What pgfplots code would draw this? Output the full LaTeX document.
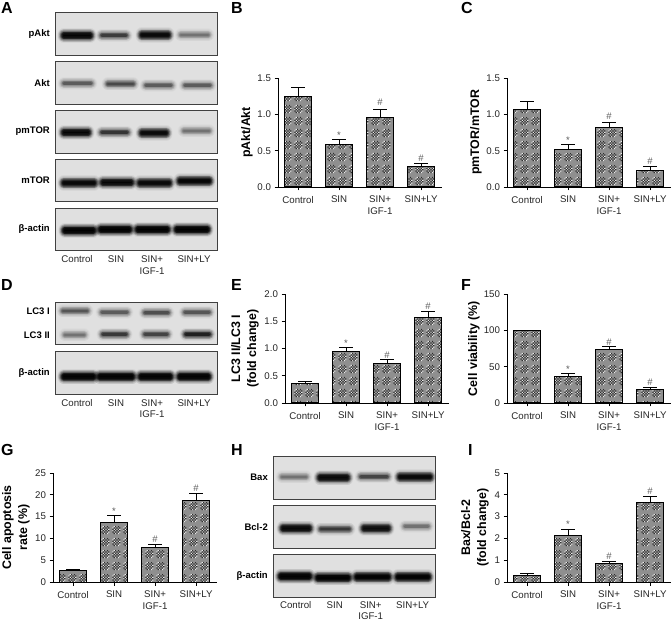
\documentclass[border=0pt]{standalone}
\usepackage{fontspec}
\setmainfont{Liberation Sans}
\usepackage{pgfplots}
\usepackage{pgfplotstable}
\pgfplotsset{compat=1.18}
\usetikzlibrary{patterns}

% moire look of the bar fill
\pgfdeclarepatterninherentlycolored{moire}{\pgfpointorigin}{\pgfpoint{11.3pt}{12.4pt}}{\pgfpoint{11.3pt}{12.4pt}}{
  \definecolor{base}{gray}{0.56}
  \definecolor{lite}{gray}{0.92}
  \definecolor{dark}{gray}{0.18}
  \pgfsetfillcolor{base}
  \pgfpathrectangle{\pgfpointorigin}{\pgfpoint{11.3pt}{12.4pt}}
  \pgfusepath{fill}
  \pgfsetfillcolor{lite}
  \foreach \i in {0,...,5}{\foreach \j in {0,...,5}{
    \pgfmathsetmacro\r{(\i-2.5)^2+(\j-2.5)^2}
    \pgfmathtruncatemacro\p{mod(\i+\j,2)}
    \ifdim\r pt<9pt \ifnum\p=0
      \pgfpathrectangle{\pgfpoint{1.45pt+1.4pt*\i}{2pt+1.4pt*\j}}{\pgfqpoint{1.4pt}{1.4pt}}
    \fi\fi
  }}
  \pgfusepath{fill}
  \pgfsetfillcolor{dark}
  \foreach \i in {0,...,5}{\foreach \j in {0,...,5}{
    \pgfmathsetmacro\r{(\i-2.5)^2+(\j-2.5)^2}
    \pgfmathtruncatemacro\p{mod(\i+\j,2)}
    \ifdim\r pt<9pt \ifnum\p=1
      \pgfpathrectangle{\pgfpoint{1.45pt+1.4pt*\i}{2pt+1.4pt*\j}}{\pgfqpoint{1.4pt}{1.4pt}}
    \fi\fi
  }}
  \pgfusepath{fill}
}

\newcommand{\tickfont}{\fontsize{9.7}{12}\selectfont}
\newcommand{\labfont}{\fontsize{12.4}{16}\selectfont\bfseries}

\pgfplotstableread{
x y e
0 1.25 0.12
1 0.59 0.07
2 0.95 0.11
3 0.28 0.04
}\tabB
\pgfplotstableread{
x y e
0 1.06 0.12
1 0.51 0.07
2 0.82 0.07
3 0.23 0.05
}\tabC
\pgfplotstableread{
x y e
0 0.35 0.04
1 0.95 0.07
2 0.72 0.08
3 1.56 0.11
}\tabE
\pgfplotstableread{
x y e
0 100 0
1 36 4
2 73 4.5
3 18 4
}\tabF
\pgfplotstableread{
x y e
0 2.6 0.3
1 13.7 1.5
2 7.8 0.9
3 18.6 1.7
}\tabG
\pgfplotstableread{
x y e
0 0.28 0.1
1 2.15 0.25
2 0.85 0.1
3 3.65 0.28
}\tabI

\pgfplotsset{
  panel/.style={
    scale only axis,width=164pt,height=109pt,
    xmin=-0.49,xmax=3.51,ymin=0,
    axis lines=left,axis line style={-,line width=0.9pt},
    tick style={black,line width=0.8pt},tick align=outside,
    major tick length=3.5pt,
    xtick={0,1,2,3},
    xticklabels={Control,SIN,{SIN+\\IGF-1},SIN+LY},
    xticklabel style={align=center,yshift=-2pt},
    tick label style={font=\tickfont,text=black!85},
    /pgf/number format/assume math mode=true,
    ylabel style={at={(axis description cs:0,0.5)},anchor=center,align=center,font=\labfont},
    clip=false,
  },
  bars/.style={
    ybar,bar width=27.5pt,bar shift=0pt,draw=black,line width=1pt,pattern=moire,
    error bars/.cd,y dir=plus,y explicit,
    error bar style={black,line width=1pt,solid},
    error mark options={rotate=90,mark size=7pt,line width=1pt,black},
  },
  sig/.style={
    draw=none,mark=none,
    nodes near coords style={font=\fontsize{9.5}{10}\selectfont,text=black!65,anchor=center,inner sep=0pt},
  },
}

% blurred band of a blot: from x1 to x2 at height y, darkness d
\newcommand{\band}[4]{%
  \addplot[line cap=round,line width=13pt,black,opacity={0.05*#4}] coordinates {(#1,#3)(#2,#3)};
  \addplot[line cap=round,line width=11.5pt,black,opacity={0.08*#4}] coordinates {(#1,#3)(#2,#3)};
  \addplot[line cap=round,line width=10pt,black,opacity={0.12*#4}] coordinates {(#1,#3)(#2,#3)};
  \addplot[line cap=round,line width=8.5pt,black,opacity={0.17*#4}] coordinates {(#1,#3)(#2,#3)};
  \addplot[line cap=round,line width=7pt,black,opacity={0.24*#4}] coordinates {(#1,#3)(#2,#3)};
  \addplot[line cap=round,line width=5.5pt,black,opacity={0.32*#4}] coordinates {(#1,#3)(#2,#3)};
  \addplot[line cap=round,line width=4pt,black,opacity={0.42*#4}] coordinates {(#1,#3)(#2,#3)};
  \addplot[line cap=round,line width=2.5pt,black,opacity={0.5*#4}] coordinates {(#1,#3)(#2,#3)};
}
% strong band, a little taller
\newcommand{\bandh}[4]{\band{#1}{#2}{#3-1.2}{#4}\band{#1}{#2}{#3+1.2}{#4}}
\pgfplotsset{
  blot/.style n args={2}{
    scale only axis,width=162pt,height=42.6pt,
    xmin=#1,xmax=#1+162,ymin=#2,ymax=#2+42.6,y dir=reverse,
    ticks=none,axis line style={line width=0.9pt,black!75},
    axis background/.style={fill=black!12},
  },
}
% blot frame: left edge, top edge counted from the top of the figure
\newcommand{\blotat}[2]{\pgfmathsetlengthmacro{\blotY}{(621-#2-42.6)*1pt}}

\newcommand{\lab}[3]{\node[font=\tickfont,text=black!85,anchor=center] at ({#1},{621-(#2)}) {#3};}
\newcommand{\lanes}[2]{%
  \lab{77+#1}{#2}{Control}\lab{116+#1}{#2}{SIN}\lab{152+#1}{#2}{SIN+}
  \lab{152+#1}{#2+11.5}{IGF-1}\lab{194+#1}{#2}{SIN+LY}}
\newcommand{\blab}[3]{\node[font=\fontsize{9.5}{11}\selectfont\bfseries,anchor=east,inner sep=0pt] at (#1,{621-#2}) {#3};}
\newcommand{\letter}[3]{\node[font=\fontsize{16}{16}\selectfont\bfseries,anchor=west,inner sep=0pt] at (#1,{621-#2}) {#3};}

\begin{document}
\begin{tikzpicture}[x=1pt,y=1pt]
\useasboundingbox (0,0) rectangle (671,621);

\letter{1}{8}{A}\letter{231}{8}{B}\letter{461}{8}{C}
\letter{1}{285}{D}\letter{231}{285}{E}\letter{461}{285}{F}
\letter{1}{450}{G}\letter{231}{450}{H}\letter{468}{450}{I}

% A, blots
\blotat{55}{12.7}
\begin{axis}[blot={55}{12.7},at={(55pt,\blotY)}]
\bandh{64}{90}{35.5}{0.85}\band{102}{126}{35.5}{0.6}\bandh{142}{168}{35}{0.8}\band{181}{208}{35}{0.32}
\end{axis}
\blotat{55}{61.5}
\begin{axis}[blot={55}{61.5},at={(55pt,\blotY)}]
\band{64}{91}{83.5}{0.42}\band{108}{133}{84}{0.52}\band{146}{171}{85.5}{0.42}\band{185}{210}{85.5}{0.42}
\end{axis}
\blotat{55}{110.5}
\begin{axis}[blot={55}{110.5},at={(55pt,\blotY)}]
\bandh{64}{88}{132.5}{0.8}\band{102}{127}{132.5}{0.65}\bandh{142}{166}{133}{0.75}\band{184}{209}{131}{0.32}
\end{axis}
\blotat{55}{159.3}
\begin{axis}[blot={55}{159.3},at={(55pt,\blotY)}]
\bandh{64}{94}{183}{0.8}\bandh{103}{131}{182.5}{0.8}\bandh{140}{169}{183}{0.8}\bandh{180}{209}{181}{0.85}
\end{axis}
\blotat{55}{208}
\begin{axis}[blot={55}{208},at={(55pt,\blotY)}]
\bandh{65}{93}{230.5}{1}\bandh{101}{129}{229.5}{1}\bandh{138}{167}{229.5}{1}\bandh{177}{207}{229.5}{1}
\end{axis}
\blab{50}{34}{pAkt}\blab{50}{83}{Akt}\blab{50}{131}{pmTOR}\blab{50}{180}{mTOR}\blab{50}{229}{β-actin}
\lanes{0}{259.3}

% D, blots
\blotat{55}{302.3}
\begin{axis}[blot={55}{302.3},at={(55pt,\blotY)}]
\band{63}{87}{311}{0.45}\band{102}{127}{312.3}{0.42}\band{145}{168}{312.7}{0.48}\band{185}{209}{312.3}{0.45}
\band{65}{84}{335}{0.32}\band{103}{126}{334.3}{0.62}\band{145}{167}{334.3}{0.55}\band{186}{209}{334.3}{0.85}
\end{axis}
\blotat{55}{351.7}
\begin{axis}[blot={55}{351.7},at={(55pt,\blotY)}]
\bandh{64}{93}{376.7}{1}\bandh{100}{132}{376.7}{1}\bandh{141}{170}{376.7}{1}\bandh{180}{208}{376.7}{1}
\end{axis}
\blab{50}{311.5}{LC3 I}\blab{50}{335}{LC3 II}\blab{50}{372.7}{β-actin}
\lanes{0}{403}

% H, blots
\blotat{273}{456.7}
\begin{axis}[blot={273}{456.7},at={(273pt,\blotY)}]
\band{282}{306}{477}{0.32}\bandh{320}{347}{477.7}{0.8}\band{361}{387}{476.7}{0.55}\bandh{400}{430}{477}{0.8}
\end{axis}
\blotat{273}{505.7}
\begin{axis}[blot={273}{505.7},at={(273pt,\blotY)}]
\bandh{283}{309}{528.3}{0.8}\band{321}{349}{529}{0.62}\bandh{364}{388}{528.3}{0.72}\band{405}{428}{526.3}{0.32}
\end{axis}
\blotat{273}{554.7}
\begin{axis}[blot={273}{554.7},at={(273pt,\blotY)}]
\bandh{281}{309}{576.3}{1}\bandh{318}{348}{577.7}{1}\bandh{357}{388}{577}{1}\bandh{398}{428}{577}{1}
\end{axis}
\blab{268}{477.7}{Bax}\blab{268}{526.7}{Bcl-2}\blab{268}{575.7}{β-actin}
\lanes{218.7}{604.8}

% B
\begin{axis}[panel,at={(278pt,434pt)},ymax=1.5,ytick={0,0.5,1,1.5},
  yticklabel style={/pgf/number format/.cd,fixed,fixed zerofill,precision=1},
  ylabel={pAkt/Akt},ylabel style={yshift=31pt}]
\addplot[bars] table[x=x,y=y,y error=e] {\tabB};
\addplot[sig,nodes near coords={*}] coordinates {(1,0.71)};
\addplot[sig,nodes near coords={\#}] coordinates {(2,1.16)(3,0.39)};
\end{axis}
% C
\begin{axis}[panel,at={(507pt,434pt)},ymax=1.5,ytick={0,0.5,1,1.5},
  yticklabel style={/pgf/number format/.cd,fixed,fixed zerofill,precision=1},
  ylabel={pmTOR/mTOR},ylabel style={yshift=31pt}]
\addplot[bars] table[x=x,y=y,y error=e] {\tabC};
\addplot[sig,nodes near coords={*}] coordinates {(1,0.64)};
\addplot[sig,nodes near coords={\#}] coordinates {(2,0.97)(3,0.35)};
\end{axis}
% E
\begin{axis}[panel,at={(285pt,218pt)},ymax=2,ytick={0,0.5,1,1.5,2},
  yticklabel style={/pgf/number format/.cd,fixed,fixed zerofill,precision=1},
  ylabel={LC3 II/LC3 I\\(fold change)},ylabel style={yshift=40pt}]
\addplot[bars] table[x=x,y=y,y error=e] {\tabE};
\addplot[sig,nodes near coords={*}] coordinates {(1,1.1)};
\addplot[sig,nodes near coords={\#}] coordinates {(2,0.88)(3,1.78)};
\end{axis}
% F
\begin{axis}[panel,at={(507pt,218pt)},ymax=150,ytick={0,50,100,150},
  ylabel={Cell viability (\%)},ylabel style={yshift=33pt}]
\addplot[bars] table[x=x,y=y,y error=e] {\tabF};
\addplot[sig,nodes near coords={*}] coordinates {(1,46)};
\addplot[sig,nodes near coords={\#}] coordinates {(2,84)(3,29)};
\end{axis}
% G
\begin{axis}[panel,at={(53pt,39pt)},ymax=25,ytick={0,5,10,15,20,25},
  ylabel={Cell apoptosis\\rate (\%)},ylabel style={yshift=37pt}]
\addplot[bars] table[x=x,y=y,y error=e] {\tabG};
\addplot[sig,nodes near coords={*}] coordinates {(1,16.3)};
\addplot[sig,nodes near coords={\#}] coordinates {(2,9.7)(3,21.4)};
\end{axis}
% I
\begin{axis}[panel,at={(507pt,39pt)},ymax=5,ytick={0,1,2,3,4,5},
  ylabel={Bax/Bcl-2\\(fold change)},ylabel style={yshift=32pt}]
\addplot[bars] table[x=x,y=y,y error=e] {\tabI};
\addplot[sig,nodes near coords={*}] coordinates {(1,2.65)};
\addplot[sig,nodes near coords={\#}] coordinates {(2,1.17)(3,4.15)};
\end{axis}
\end{tikzpicture}
\end{document}
